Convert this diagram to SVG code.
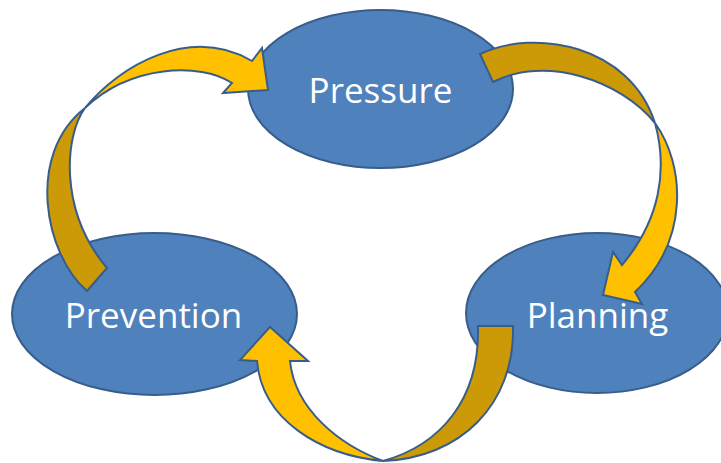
<svg xmlns="http://www.w3.org/2000/svg" width="721" height="463" viewBox="0 0 721 463">
<style>
.node{fill:#4F81BD;stroke:#385D8A;stroke-width:2}
.lbl{font-family:"Open Sans","Liberation Sans",sans-serif;font-size:35px;fill:#FFFFFF;text-anchor:middle}
.front{fill:#FFC000;stroke:#385D8A;stroke-width:2;stroke-linejoin:miter}
.back{fill:#CC9A06;stroke:#385D8A;stroke-width:2;stroke-linejoin:miter}
</style>
<rect width="721" height="463" fill="#FFFFFF"/>
<g id="pressure">
<ellipse class="node" cx="380.5" cy="89" rx="132.5" ry="79"/>
<text class="lbl" x="380.5" y="103">Pressure</text>
</g>
<g id="prevention">
<ellipse class="node" cx="154.5" cy="314" rx="142.5" ry="81"/>
<text class="lbl" x="153.5" y="328">Prevention</text>
</g>
<g id="planning">
<ellipse class="node" cx="597" cy="313" rx="131" ry="80"/>
<text class="lbl" x="597.5" y="328">Planning</text>
</g>
<g id="connectors">
<g id="prevention-to-pressure">
<path class="back" d="M87,291 C45,255 25,155 85,108 C65,135 58,210 107,268 Z"/>
<path class="front" d="M85,108 C120,65 190,25 252,61 L262,48 L268,90 L223,93 L232,83 C200,62 130,65 85,108 Z"/>
</g>
<g id="pressure-to-planning">
<path class="back" d="M480,54 C535,28 630,45 655,123 C620,80 545,55 493,82 Z"/>
<path class="front" d="M655,123 C685,165 690,240 635,292 L642,304 L603,295 L613,252 L622,265 C660,220 668,170 655,123 Z"/>
</g>
<g id="planning-to-prevention">
<path class="back" d="M513,326 C515,405 460,458 383,461 C440,445 480,400 478,326 Z"/>
<path class="front" d="M383,461 C320,455 262,420 257,361 L240,360 L270,327 L308,361 L290,361 C295,410 340,445 383,461 Z"/>
</g>
</g>
</svg>
